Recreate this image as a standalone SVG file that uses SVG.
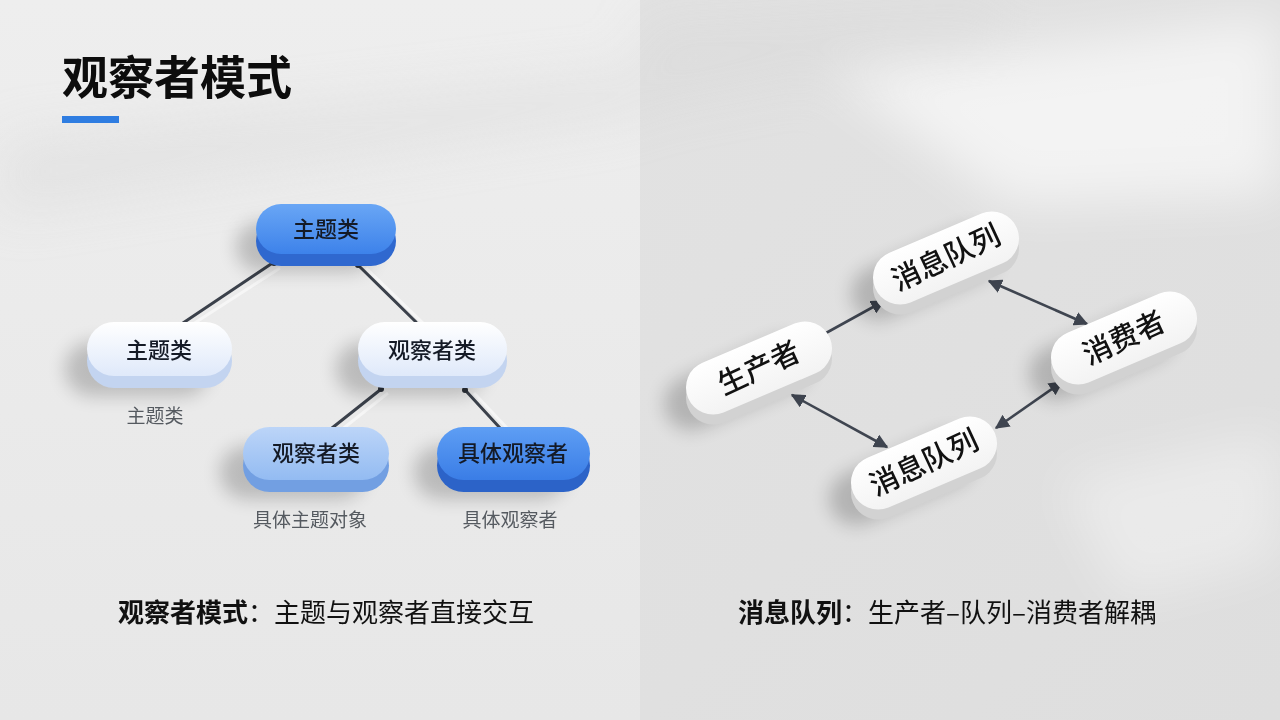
<svg xmlns="http://www.w3.org/2000/svg" width="1280" height="720" viewBox="0 0 1280 720">
<defs>
<style>
.cjk{font-family:"Noto Sans CJK SC","Noto Sans",sans-serif}
.nl{font-size:22px;font-weight:500;fill:#141a26;text-anchor:middle}
.sub{font-size:19px;fill:#555a60;text-anchor:middle}
.rl{font-size:29px;font-weight:500;fill:#111111;text-anchor:middle}
.cap{font-size:26px;fill:#111}
.conn{stroke:#3b414b;stroke-width:3;fill:none;stroke-linecap:round}
.connsh{stroke:#ffffff;stroke-opacity:.55;stroke-width:3;fill:none}
.rconn{stroke:#3f4550;stroke-width:2.6;fill:none}
.shadow{fill:#000;opacity:.2;filter:url(#blur)}
</style>
<filter id="blur" x="-50%" y="-50%" width="200%" height="200%"><feGaussianBlur stdDeviation="9"/></filter>
<filter id="bigblur" x="-50%" y="-50%" width="200%" height="200%"><feGaussianBlur stdDeviation="25"/></filter>
<linearGradient id="bgL" x1="0" y1="0" x2="0" y2="1"><stop offset="0" stop-color="#eeeeee"/><stop offset="1" stop-color="#e7e7e7"/></linearGradient>
<linearGradient id="bgR" x1="0" y1="0" x2="1" y2="1"><stop offset="0" stop-color="#e2e2e2"/><stop offset="1" stop-color="#dedede"/></linearGradient>
<linearGradient id="gBlue" x1="0" y1="0" x2="0" y2="1"><stop offset="0" stop-color="#69a6f5"/><stop offset="1" stop-color="#3d82ea"/></linearGradient>
<linearGradient id="gBlue2" x1="0" y1="0" x2="0" y2="1"><stop offset="0" stop-color="#5e9ef4"/><stop offset="1" stop-color="#3a7de6"/></linearGradient>
<linearGradient id="gLight" x1="0" y1="0" x2="0" y2="1"><stop offset="0" stop-color="#ffffff"/><stop offset="1" stop-color="#dfe9fa"/></linearGradient>
<linearGradient id="gMid" x1="0" y1="0" x2="0" y2="1"><stop offset="0" stop-color="#bcd5f8"/><stop offset="1" stop-color="#93bbf2"/></linearGradient>
<linearGradient id="gWhite" x1="0" y1="0" x2="0" y2="1"><stop offset="0" stop-color="#ffffff"/><stop offset="1" stop-color="#f3f3f3"/></linearGradient>
<marker id="ah" viewBox="0 0 10 10" refX="9" refY="5" markerWidth="5.5" markerHeight="5.5" orient="auto-start-reverse"><path d="M0,0 L10,5 L0,10 z" fill="#3f4550"/></marker>
</defs>

<!-- background -->
<rect x="0" y="0" width="1280" height="720" fill="#e4e4e4"/>
<rect x="0" y="0" width="640" height="720" fill="url(#bgL)"/>
<rect x="640" y="0" width="640" height="720" fill="url(#bgR)"/>
<g opacity=".6" filter="url(#bigblur)">
<polygon points="830,75 1280,15 1280,195 1010,205" fill="#ffffff"/>
<polygon points="1060,480 1280,430 1280,560 1120,600" fill="#ffffff" opacity=".6"/>
<polygon points="0,140 640,70 640,115 0,215" fill="#d6d6d6" opacity=".6"/>
<polygon points="640,20 1000,0 1000,40 640,110" fill="#d4d4d4" opacity=".5"/>
</g>

<!-- title -->
<g id="title">
<text x="62" y="94" class="cjk" font-size="46" font-weight="700" fill="#0d0d0d">观察者模式</text>
<rect x="62" y="116" width="57" height="7" fill="#2f7de1"/>
</g>

<!-- connectors -->
<g id="connectors">
<line class="connsh" x1="280" y1="268" x2="190" y2="326"/>
<line class="connsh" x1="366" y1="268" x2="424" y2="324"/>
<line class="connsh" x1="388" y1="393" x2="340" y2="431"/>
<line class="connsh" x1="474" y1="393" x2="508" y2="429"/>
<line class="conn" x1="274" y1="262" x2="183" y2="323"/>
<line class="conn" x1="358" y1="265" x2="416" y2="322"/>
<line class="conn" x1="380" y1="390" x2="332" y2="428"/>
<line class="conn" x1="466" y1="391" x2="500" y2="428"/>
<circle cx="274" cy="263" r="3" fill="#2b3038"/>
<circle cx="358" cy="265" r="3" fill="#2b3038"/>
<circle cx="381" cy="389" r="3" fill="#2b3038"/>
<circle cx="465" cy="390" r="3" fill="#2b3038"/>
<line class="rconn" x1="826" y1="333" x2="884" y2="301" marker-end="url(#ah)"/>
<line class="rconn" x1="989" y1="281" x2="1087" y2="324" marker-start="url(#ah)" marker-end="url(#ah)"/>
<line class="rconn" x1="792" y1="395" x2="887" y2="447" marker-start="url(#ah)" marker-end="url(#ah)"/>
<line class="rconn" x1="996" y1="428" x2="1062" y2="382" marker-start="url(#ah)" marker-end="url(#ah)"/>
</g>

<!-- left nodes -->
<g id="n-subject-top">
<rect class="shadow" x="236" y="222" width="140" height="50" rx="25"/>
<rect x="256" y="216" width="140" height="50" rx="25" fill="#2f68cf"/>
<rect x="256" y="204" width="140" height="50" rx="25" fill="url(#gBlue)"/>
<text x="326" y="237" class="cjk nl">主题类</text>
</g>
<g id="n-subject-left">
<rect class="shadow" x="65" y="342" width="145" height="54" rx="27"/>
<rect x="87" y="334" width="145" height="54" rx="27" fill="#c3d4f0"/>
<rect x="87" y="322" width="145" height="54" rx="27" fill="url(#gLight)"/>
<text x="159" y="358" class="cjk nl">主题类</text>
<text x="155" y="423" class="cjk sub">主题类</text>
</g>
<g id="n-observer-mid">
<rect class="shadow" x="336" y="342" width="149" height="54" rx="27"/>
<rect x="358" y="334" width="149" height="54" rx="27" fill="#c3d4f0"/>
<rect x="358" y="322" width="149" height="54" rx="27" fill="url(#gLight)"/>
<text x="432" y="358" class="cjk nl">观察者类</text>
</g>
<g id="n-observer-bottom">
<rect class="shadow" x="220" y="446" width="146" height="53" rx="26.5"/>
<rect x="243" y="439" width="146" height="53" rx="26.5" fill="#729fe2"/>
<rect x="243" y="427" width="146" height="53" rx="26.5" fill="url(#gMid)"/>
<text x="316" y="461" class="cjk nl">观察者类</text>
<text x="310" y="527" class="cjk sub">具体主题对象</text>
</g>
<g id="n-concrete-observer">
<rect class="shadow" x="414" y="446" width="153" height="53" rx="26.5"/>
<rect x="437" y="439" width="153" height="53" rx="26.5" fill="#2c63c8"/>
<rect x="437" y="427" width="153" height="53" rx="26.5" fill="url(#gBlue2)"/>
<text x="513" y="461" class="cjk nl">具体观察者</text>
<text x="510" y="527" class="cjk sub">具体观察者</text>
</g>

<!-- right nodes -->
<g id="n-queue-top" transform="translate(946,258)">
<g transform="translate(-22,16) rotate(-23)"><rect class="shadow" x="-77" y="-27" width="154" height="54" rx="27"/></g>
<g transform="translate(0,10) rotate(-23)"><rect x="-77" y="-27" width="154" height="54" rx="27" fill="#d2d2d2"/></g>
<g transform="rotate(-23)"><rect x="-77" y="-27" width="154" height="54" rx="27" fill="url(#gWhite)"/></g>
<text class="cjk rl" transform="rotate(-25) translate(0,10)">消息队列</text>
</g>
<g id="n-producer" transform="translate(759,368)">
<g transform="translate(-22,16) rotate(-23)"><rect class="shadow" x="-77" y="-27" width="154" height="54" rx="27"/></g>
<g transform="translate(0,10) rotate(-23)"><rect x="-77" y="-27" width="154" height="54" rx="27" fill="#d2d2d2"/></g>
<g transform="rotate(-23)"><rect x="-77" y="-27" width="154" height="54" rx="27" fill="url(#gWhite)"/></g>
<text class="cjk rl" transform="rotate(-25) translate(0,10)">生产者</text>
</g>
<g id="n-consumer" transform="translate(1124,338)">
<g transform="translate(-22,16) rotate(-23)"><rect class="shadow" x="-77" y="-27" width="154" height="54" rx="27"/></g>
<g transform="translate(0,10) rotate(-23)"><rect x="-77" y="-27" width="154" height="54" rx="27" fill="#d2d2d2"/></g>
<g transform="rotate(-23)"><rect x="-77" y="-27" width="154" height="54" rx="27" fill="url(#gWhite)"/></g>
<text class="cjk rl" transform="rotate(-25) translate(0,10)">消费者</text>
</g>
<g id="n-queue-bottom" transform="translate(924,463)">
<g transform="translate(-22,16) rotate(-23)"><rect class="shadow" x="-77" y="-27" width="154" height="54" rx="27"/></g>
<g transform="translate(0,10) rotate(-23)"><rect x="-77" y="-27" width="154" height="54" rx="27" fill="#d2d2d2"/></g>
<g transform="rotate(-23)"><rect x="-77" y="-27" width="154" height="54" rx="27" fill="url(#gWhite)"/></g>
<text class="cjk rl" transform="rotate(-25) translate(0,10)">消息队列</text>
</g>

<!-- captions -->
<g id="captions">
<text x="118" y="622" class="cjk cap"><tspan font-weight="700">观察者模式</tspan>：主题与观察者直接交互</text>
<text x="738" y="622" class="cjk cap"><tspan font-weight="700">消息队列</tspan>：生产者–队列–消费者解耦</text>
</g>
</svg>
